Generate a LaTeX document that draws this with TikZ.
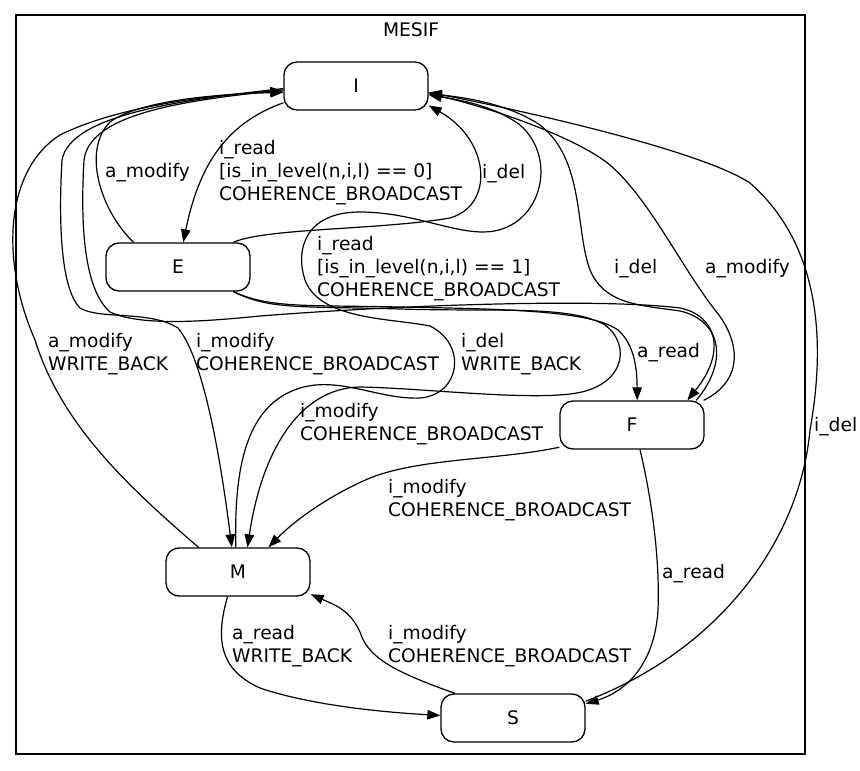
\documentclass[tikz,border=0pt]{standalone}
\usepackage{fontspec}
\setmainfont{DejaVu Sans}
\usetikzlibrary{arrows.meta}
\begin{document}
\begin{tikzpicture}[x=1pt,y=-1pt,
  font=\fontsize{18.67pt}{23pt}\selectfont,
  state/.style={draw, line width=1.3pt, rounded corners=13pt, minimum width=144pt, minimum height=48pt, inner sep=0pt},
  lbl/.style={anchor=north west, inner sep=0pt, align=left},
  tr/.style={line width=1.2pt, -{Triangle[length=13pt,width=9.5pt]}}]
\useasboundingbox (0,0) rectangle (860,771);
\draw[line width=1.3pt] (16,15) rectangle (805,754);
\node (title) at (411,30) {MESIF};
% states
\node[state] (I) at (356,86) {I};
\node[state] (E) at (178,267) {E};
\node[state] (F) at (632,425) {F};
\node[state] (M) at (238,572) {M};
\node[state] (S) at (513,718) {S};
% I -> E
\draw[tr] (I.193) .. controls (230,122) and (200,160) .. (E.78);
% E -> I a_modify
\draw[tr] (E.151) .. controls (100,210) and (82,150) .. (110,122) .. controls (140,100) and (220,94) .. (I.185);
% E -> I i_del
\draw[tr] (E.24) .. controls (265,228) and (380,230) .. (450,218) .. controls (495,205) and (490,140) .. (I.-15);
% M -> I i_del WRITE_BACK
\draw[tr] (M.95) .. controls (234,470) and (245,405) .. (300,388) .. controls (340,376) and (380,400) .. (420,398) .. controls (460,395) and (468,345) .. (430,326) .. controls (390,318) and (320,320) .. (305,280) .. controls (295,250) and (305,212) .. (360,212) .. controls (410,212) and (450,232) .. (483,232) .. controls (540,232) and (560,160) .. (520,125) .. controls (495,106) and (460,100) .. (I.-7);
% I -> M i_modify
\draw[tr] (I.182) .. controls (180,100) and (70,115) .. (62,160) .. controls (58,230) and (62,290) .. (80,308) .. controls (100,320) and (150,310) .. (178,328) .. controls (205,360) and (222,470) .. (M.104);
% I -> F i_read ==1
\draw[tr] (I.183) .. controls (190,100) and (90,112) .. (84,160) .. controls (80,230) and (85,290) .. (110,312) .. controls (140,326) and (200,322) .. (260,316) .. controls (400,305) and (600,298) .. (680,308) .. controls (715,315) and (728,350) .. (F.24);
% M -> I a_modify WRITE_BACK
\draw[tr] (M.148) .. controls (120,480) and (60,420) .. (35,340) .. controls (0,260) and (5,170) .. (60,135) .. controls (120,105) and (220,94) .. (I.184);
% E -> M i_modify
\draw[tr] (E.-24) .. controls (270,310) and (300,306) .. (400,309) .. controls (500,312) and (570,305) .. (605,325) .. controls (632,345) and (625,388) .. (570,394) .. controls (520,400) and (420,388) .. (360,387) .. controls (300,388) and (262,450) .. (M.69);
% E -> F a_read
\draw[tr] (E.-24) .. controls (270,308) and (300,305) .. (400,307) .. controls (500,309) and (590,310) .. (618,330) .. controls (635,345) and (637,370) .. (F.78);
% F -> I i_del
\draw[tr] (F.21) .. controls (730,360) and (720,320) .. (680,311) .. controls (640,305) and (605,305) .. (590,270) .. controls (575,230) and (585,160) .. (540,125) .. controls (510,105) and (470,98) .. (I.-6);
% F -> I a_modify
\draw[tr] (F.19) .. controls (745,380) and (740,340) .. (715,310) .. controls (680,265) and (650,200) .. (610,165) .. controls (580,140) and (500,110) .. (I.-6);
% F -> M i_modify
\draw[tr] (F.197) .. controls (500,460) and (420,458) .. (370,478) .. controls (330,495) and (295,520) .. (M.39);
% F -> S a_read
\draw[tr] (F.-72) .. controls (652,500) and (660,560) .. (658,610) .. controls (655,660) and (630,690) .. (S.11);
% S -> I i_del
\draw[tr] (S.13) .. controls (720,650) and (800,540) .. (810,430) .. controls (828,330) and (815,240) .. (750,183) .. controls (700,150) and (520,110) .. (I.-5);
% M -> S a_read WRITE_BACK
\draw[tr] (M.247) .. controls (215,640) and (220,670) .. (260,688) .. controls (310,705) and (380,712) .. (S.178);
% S -> M i_modify
\draw[tr] (S.157) .. controls (395,672) and (368,658) .. (360,632) .. controls (350,610) and (335,605) .. (M.-17);
% labels
\node[lbl] (l1) at (105,163) {a\_modify};
\node[lbl] (l2) at (219,140) {i\_read\\{[}is\_in\_level(n,i,l) == 0{]}\\COHERENCE\_BROADCAST};
\node[lbl] (l3) at (482,164) {i\_del};
\node[lbl] (l4) at (317,236) {i\_read\\{[}is\_in\_level(n,i,l) == 1{]}\\COHERENCE\_BROADCAST};
\node[lbl] (l5) at (614,259) {i\_del};
\node[lbl] (l6) at (705,259) {a\_modify};
\node[lbl] (l7) at (48,333) {a\_modify\\WRITE\_BACK};
\node[lbl] (l8) at (196,333) {i\_modify\\COHERENCE\_BROADCAST};
\node[lbl] (l9) at (461,333) {i\_del\\WRITE\_BACK};
\node[lbl] (l10) at (637,343) {a\_read};
\node[lbl] (l11) at (300,403) {i\_modify\\COHERENCE\_BROADCAST};
\node[lbl] (l12) at (388,479) {i\_modify\\COHERENCE\_BROADCAST};
\node[lbl] (l13) at (662,564) {a\_read};
\node[lbl] (l14) at (814,417) {i\_del};
\node[lbl] (l15) at (232,625) {a\_read\\WRITE\_BACK};
\node[lbl] (l16) at (388,625) {i\_modify\\COHERENCE\_BROADCAST};
\end{tikzpicture}
\end{document}
